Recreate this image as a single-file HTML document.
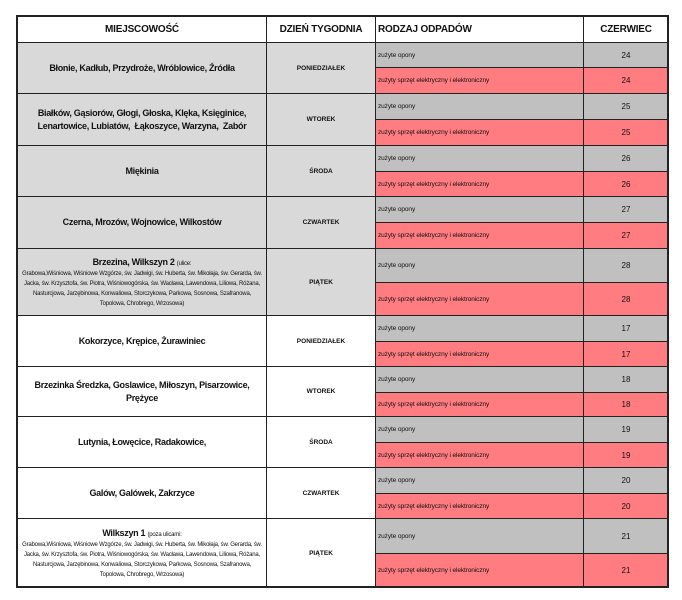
<!DOCTYPE html>
<html><head><meta charset="utf-8"><style>
body{margin:0;width:682px;height:600px;background:#fff;position:relative;overflow:hidden;font-family:"Liberation Sans",sans-serif;color:#111}
.c{position:absolute;box-sizing:border-box;border:1px solid #222;display:flex;align-items:center;justify-content:center;text-align:center;overflow:hidden}
.h{font-weight:bold;font-size:10px;letter-spacing:-0.2px}
.l{font-weight:bold;font-size:9px;line-height:13px;letter-spacing:-0.3px;white-space:nowrap}
.d{font-weight:bold;font-size:6.5px}
.t{justify-content:flex-start;font-size:6.5px;padding-left:2px;letter-spacing:-0.1px}
.n{font-size:8px}
.g{background:#c0c0c0}.p{background:#ff7c80}.lg{background:#d9d9d9}.w{background:#fff}
.s{font-size:6px;font-weight:normal;line-height:10px;letter-spacing:-0.2px;white-space:normal;padding:0 3px}
.frame{position:absolute;left:16px;top:15px;width:653px;height:573px;border:2px solid #222;box-sizing:border-box;pointer-events:none}
</style></head><body>
<div class="c h w" style="left:17px;top:15px;width:250px;height:28px">MIEJSCOWOŚĆ</div>
<div class="c h w" style="left:266px;top:15px;width:110px;height:28px">DZIEŃ TYGODNIA</div>
<div class="c h w" style="left:375px;top:15px;width:209px;height:28px;justify-content:flex-start;padding-left:2px">RODZAJ ODPADÓW</div>
<div class="c h w" style="left:583px;top:15px;width:86px;height:28px">CZERWIEC</div>

<div class="c l lg" style="left:17px;top:42px;width:250px;height:52px">Błonie, Kadłub, Przydroże, Wróblowice, Źródła</div>
<div class="c d lg" style="left:266px;top:42px;width:110px;height:52px">PONIEDZIAŁEK</div>
<div class="c t g" style="left:375px;top:42px;width:209px;height:26px">zużyte opony</div>
<div class="c n g" style="left:583px;top:42px;width:86px;height:26px">24</div>
<div class="c t p" style="left:375px;top:67px;width:209px;height:27px">zużyty sprzęt elektryczny i elektroniczny</div>
<div class="c n p" style="left:583px;top:67px;width:86px;height:27px">24</div>

<div class="c l lg" style="left:17px;top:93px;width:250px;height:53px">Białków, Gąsiorów, Głogi, Głoska, Klęka, Księginice,<br>Lenartowice, Lubiatów,&nbsp; Łąkoszyce, Warzyna,&nbsp; Zabór</div>
<div class="c d lg" style="left:266px;top:93px;width:110px;height:53px">WTOREK</div>
<div class="c t g" style="left:375px;top:93px;width:209px;height:27px">zużyte opony</div>
<div class="c n g" style="left:583px;top:93px;width:86px;height:27px">25</div>
<div class="c t p" style="left:375px;top:119px;width:209px;height:27px">zużyty sprzęt elektryczny i elektroniczny</div>
<div class="c n p" style="left:583px;top:119px;width:86px;height:27px">25</div>

<div class="c l lg" style="left:17px;top:145px;width:250px;height:52px">Miękinia</div>
<div class="c d lg" style="left:266px;top:145px;width:110px;height:52px">ŚRODA</div>
<div class="c t g" style="left:375px;top:145px;width:209px;height:27px">zużyte opony</div>
<div class="c n g" style="left:583px;top:145px;width:86px;height:27px">26</div>
<div class="c t p" style="left:375px;top:171px;width:209px;height:26px">zużyty sprzęt elektryczny i elektroniczny</div>
<div class="c n p" style="left:583px;top:171px;width:86px;height:26px">26</div>

<div class="c l lg" style="left:17px;top:196px;width:250px;height:53px">Czerna, Mrozów, Wojnowice, Wilkostów</div>
<div class="c d lg" style="left:266px;top:196px;width:110px;height:53px">CZWARTEK</div>
<div class="c t g" style="left:375px;top:196px;width:209px;height:27px">zużyte opony</div>
<div class="c n g" style="left:583px;top:196px;width:86px;height:27px">27</div>
<div class="c t p" style="left:375px;top:222px;width:209px;height:27px">zużyty sprzęt elektryczny i elektroniczny</div>
<div class="c n p" style="left:583px;top:222px;width:86px;height:27px">27</div>

<div class="c l lg" style="left:17px;top:248px;width:250px;height:68px;flex-direction:column"><div>Brzezina, Wilkszyn 2 <span class="s" style="padding:0">(ulice:</span></div><div class="s">Grabowa,Wiśniowa, Wiśniowe Wzgórze, św. Jadwigi, św. Huberta, św. Mikołaja, św. Gerarda, św. Jacka, św. Krzysztofa, św. Piotra, Wiśniowogórska, św. Wacława, Lawendowa, Liliowa, Różana, Nasturcjowa, Jarzębinowa, Konwaliowa, Storczykowa, Parkowa, Sosnowa, Szafranowa, Topolowa, Chrobrego, Wrzosowa)</div></div>
<div class="c d lg" style="left:266px;top:248px;width:110px;height:68px">PIĄTEK</div>
<div class="c t g" style="left:375px;top:248px;width:209px;height:35px">zużyte opony</div>
<div class="c n g" style="left:583px;top:248px;width:86px;height:35px">28</div>
<div class="c t p" style="left:375px;top:282px;width:209px;height:34px">zużyty sprzęt elektryczny i elektroniczny</div>
<div class="c n p" style="left:583px;top:282px;width:86px;height:34px">28</div>

<div class="c l w" style="left:17px;top:315px;width:250px;height:52px">Kokorzyce, Krępice, Żurawiniec</div>
<div class="c d w" style="left:266px;top:315px;width:110px;height:52px">PONIEDZIAŁEK</div>
<div class="c t g" style="left:375px;top:315px;width:209px;height:27px">zużyte opony</div>
<div class="c n g" style="left:583px;top:315px;width:86px;height:27px">17</div>
<div class="c t p" style="left:375px;top:341px;width:209px;height:26px">zużyty sprzęt elektryczny i elektroniczny</div>
<div class="c n p" style="left:583px;top:341px;width:86px;height:26px">17</div>

<div class="c l w" style="left:17px;top:366px;width:250px;height:51px">Brzezinka Średzka, Goslawice, Miłoszyn, Pisarzowice,<br>Prężyce</div>
<div class="c d w" style="left:266px;top:366px;width:110px;height:51px">WTOREK</div>
<div class="c t g" style="left:375px;top:366px;width:209px;height:27px">zużyte opony</div>
<div class="c n g" style="left:583px;top:366px;width:86px;height:27px">18</div>
<div class="c t p" style="left:375px;top:392px;width:209px;height:25px">zużyty sprzęt elektryczny i elektroniczny</div>
<div class="c n p" style="left:583px;top:392px;width:86px;height:25px">18</div>

<div class="c l w" style="left:17px;top:416px;width:250px;height:52px">Lutynia, Łowęcice, Radakowice,</div>
<div class="c d w" style="left:266px;top:416px;width:110px;height:52px">ŚRODA</div>
<div class="c t g" style="left:375px;top:416px;width:209px;height:27px">zużyte opony</div>
<div class="c n g" style="left:583px;top:416px;width:86px;height:27px">19</div>
<div class="c t p" style="left:375px;top:442px;width:209px;height:26px">zużyty sprzęt elektryczny i elektroniczny</div>
<div class="c n p" style="left:583px;top:442px;width:86px;height:26px">19</div>

<div class="c l w" style="left:17px;top:467px;width:250px;height:52px">Galów, Galówek, Zakrzyce</div>
<div class="c d w" style="left:266px;top:467px;width:110px;height:52px">CZWARTEK</div>
<div class="c t g" style="left:375px;top:467px;width:209px;height:27px">zużyte opony</div>
<div class="c n g" style="left:583px;top:467px;width:86px;height:27px">20</div>
<div class="c t p" style="left:375px;top:493px;width:209px;height:26px">zużyty sprzęt elektryczny i elektroniczny</div>
<div class="c n p" style="left:583px;top:493px;width:86px;height:26px">20</div>

<div class="c l w" style="left:17px;top:518px;width:250px;height:70px;flex-direction:column"><div>Wilkszyn 1 <span class="s" style="padding:0">(poza ulicami:</span></div><div class="s">Grabowa,Wiśniowa, Wiśniowe Wzgórze, św. Jadwigi, św. Huberta, św. Mikołaja, św. Gerarda, św. Jacka, św. Krzysztofa, św. Piotra, Wiśniowogórska, św. Wacława, Lawendowa, Liliowa, Różana, Nasturcjowa, Jarzębinowa, Konwaliowa, Storczykowa, Parkowa, Sosnowa, Szafranowa, Topolowa, Chrobrego, Wrzosowa)</div></div>
<div class="c d w" style="left:266px;top:518px;width:110px;height:70px">PIĄTEK</div>
<div class="c t g" style="left:375px;top:518px;width:209px;height:36px">zużyte opony</div>
<div class="c n g" style="left:583px;top:518px;width:86px;height:36px">21</div>
<div class="c t p" style="left:375px;top:553px;width:209px;height:35px">zużyty sprzęt elektryczny i elektroniczny</div>
<div class="c n p" style="left:583px;top:553px;width:86px;height:35px">21</div>
<div class="frame"></div>
</body></html>
